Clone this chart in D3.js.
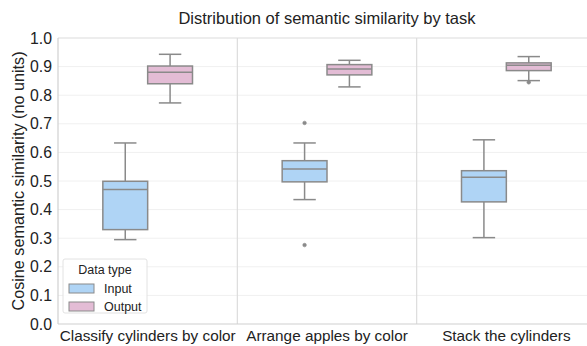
<!DOCTYPE html>
<html>
<head>
<meta charset="utf-8">
<script src="https://cdn.jsdelivr.net/npm/d3@7"></script>
<style>
  body { margin: 0; background: #fff; }
  svg { font-family: "Liberation Sans", Arial, sans-serif; display: block; }
</style>
</head>
<body>
<svg id="chart" width="587" height="346"></svg>
<script>
// tasks on the x axis
var tasks = ["Classify cylinders by color", "Arrange apples by color", "Stack the cylinders"];
var dataTypes = ["Input", "Output"];
var yTicks = [0, 0.1, 0.2, 0.3, 0.4, 0.5, 0.6, 0.7, 0.8, 0.9, 1.0];

// box stats per task: [whisker low, q1, median, q3, whisker high]
var inputStats = [
  [0.295, 0.330, 0.470, 0.499, 0.633],
  [0.435, 0.497, 0.542, 0.571, 0.633],
  [0.302, 0.427, 0.513, 0.536, 0.644]
];
var outputStats = [
  [0.773, 0.840, 0.880, 0.902, 0.943],
  [0.829, 0.871, 0.892, 0.907, 0.922],
  [0.851, 0.886, 0.905, 0.913, 0.935]
];
var inputOutliers = [[], [0.703, 0.276], []];
var outputOutliers = [[], [], [0.845]];

var colors = { Input: "#afd4f5", Output: "#e3bcd5" };
var lineCol = "#8a8a8a";

var svg = d3.select("#chart");
// plot area (window.top is reserved, so prefixed names)
var pLeft = 58, pRight = 596, pTop = 38, pBottom = 324;

var x = d3.scaleBand().domain(tasks).range([pLeft, pRight]);
var xInner = d3.scaleBand().domain(dataTypes).range([x.bandwidth() * 0.25, x.bandwidth() * 0.75]);
var y = d3.scaleLinear().domain([0, 1]).range([pBottom, pTop]);

// horizontal grid
svg.append("g").selectAll("line").data(yTicks.slice(1, -1)).enter().append("line")
  .attr("x1", pLeft).attr("x2", pRight)
  .attr("y1", function(d) { return y(d); }).attr("y2", function(d) { return y(d); })
  .attr("stroke", "#f0f0f0").attr("stroke-width", 1);

// vertical separators between tasks
svg.append("g").selectAll("line").data(tasks.slice(1)).enter().append("line")
  .attr("x1", function(d) { return x(d); }).attr("x2", function(d) { return x(d); })
  .attr("y1", pTop).attr("y2", pBottom)
  .attr("stroke", "#dcdcdc").attr("stroke-width", 1.2);

// frame: top, left, bottom
svg.append("line").attr("x1", pLeft).attr("x2", pRight).attr("y1", pTop).attr("y2", pTop)
  .attr("stroke", "#dcdcdc").attr("stroke-width", 1.2);
svg.append("line").attr("x1", pLeft).attr("x2", pLeft).attr("y1", pTop).attr("y2", pBottom)
  .attr("stroke", "#d0d0d0").attr("stroke-width", 1.2);
svg.append("line").attr("x1", pLeft).attr("x2", pRight).attr("y1", pBottom).attr("y2", pBottom)
  .attr("stroke", "#d0d0d0").attr("stroke-width", 1.2);

// y axis
var yAxis = svg.append("g").attr("transform", "translate(" + pLeft + ",0)")
  .call(d3.axisLeft(y).tickValues(yTicks).tickFormat(d3.format(".1f")).tickSize(0).tickPadding(6));
yAxis.select(".domain").remove();
yAxis.selectAll("text").attr("font-size", 15.8).attr("fill", "#222").attr("font-family", "Liberation Sans, Arial, sans-serif");

// x axis
var xAxis = svg.append("g").attr("transform", "translate(0," + pBottom + ")")
  .call(d3.axisBottom(x).tickSize(0).tickPadding(6));
xAxis.select(".domain").remove();
xAxis.selectAll("text").attr("font-size", 15.3).attr("fill", "#222").attr("font-family", "Liberation Sans, Arial, sans-serif")
  .attr("dy", "0.71em");

// boxes
function drawBoxes(type, stats, outliers) {
  var bw = xInner.bandwidth();
  stats.forEach(function(s, i) {
    var x0 = x(tasks[i]) + xInner(type);
    var cx = x0 + bw / 2;
    var g = svg.append("g");
    // whiskers
    g.append("line").attr("x1", cx).attr("x2", cx).attr("y1", y(s[0])).attr("y2", y(s[1]))
      .attr("stroke", lineCol).attr("stroke-width", 1.5);
    g.append("line").attr("x1", cx).attr("x2", cx).attr("y1", y(s[3])).attr("y2", y(s[4]))
      .attr("stroke", lineCol).attr("stroke-width", 1.5);
    [s[0], s[4]].forEach(function(v) {
      g.append("line").attr("x1", cx - bw / 4).attr("x2", cx + bw / 4)
        .attr("y1", y(v)).attr("y2", y(v))
        .attr("stroke", lineCol).attr("stroke-width", 1.5);
    });
    g.append("rect").attr("x", x0).attr("width", bw)
      .attr("y", y(s[3])).attr("height", y(s[1]) - y(s[3]))
      .attr("fill", colors[type]).attr("stroke", lineCol).attr("stroke-width", 1.5);
    g.append("line").attr("x1", x0).attr("x2", x0 + bw).attr("y1", y(s[2])).attr("y2", y(s[2]))
      .attr("stroke", lineCol).attr("stroke-width", 1.5);
    outliers[i].forEach(function(v) {
      g.append("circle").attr("cx", cx).attr("cy", y(v)).attr("r", 1.8)
        .attr("fill", lineCol).attr("stroke", lineCol).attr("stroke-width", 0.6);
    });
  });
}
drawBoxes("Input", inputStats, inputOutliers);
drawBoxes("Output", outputStats, outputOutliers);

// title
svg.append("text").attr("x", (pLeft + pRight) / 2).attr("y", 24)
  .attr("text-anchor", "middle").attr("font-size", 16.5).attr("fill", "#222")
  .text("Distribution of semantic similarity by task");

// y label
svg.append("text").attr("transform", "translate(24," + ((pTop + pBottom) / 2) + ") rotate(-90)")
  .attr("text-anchor", "middle").attr("font-size", 16.2).attr("fill", "#222")
  .text("Cosine semantic similarity (no units)");

// legend
var lg = svg.append("g").attr("transform", "translate(63,259)");
lg.append("rect").attr("width", 84).attr("height", 54).attr("rx", 2)
  .attr("fill", "#fff").attr("fill-opacity", 0.85).attr("stroke", "#e2e2e2");
lg.append("text").attr("x", 42).attr("y", 15).attr("text-anchor", "middle")
  .attr("font-size", 12.5).attr("fill", "#222").text("Data type");
dataTypes.forEach(function(t, i) {
  lg.append("rect").attr("x", 6).attr("y", 25 + i * 18).attr("width", 25).attr("height", 9)
    .attr("fill", colors[t]).attr("stroke", lineCol).attr("stroke-width", 1);
  lg.append("text").attr("x", 41).attr("y", 33.5 + i * 18)
    .attr("font-size", 12.5).attr("fill", "#222").text(t);
});
</script>
</body>
</html>
